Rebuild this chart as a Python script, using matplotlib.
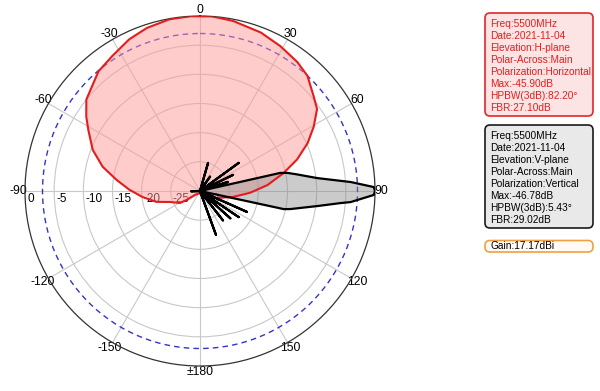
"""
Antenna radiation pattern, 5500 MHz: H-plane vs V-plane, polar dB plot.

    python plot.py        # writes out.png
"""
import numpy as np
import matplotlib
matplotlib.use("Agg")
import matplotlib.pyplot as plt
from matplotlib.patches import FancyBboxPatch

plt.rcParams["font.family"] = ["Liberation Sans", "DejaVu Sans"]

# H-plane (red) pattern, angle in deg (0 = top, clockwise) vs level in dB
h_ang = [-180, -150, -129, -124, -121, -110, -104, -96, -89, -82.5, -76, -69,
         -61.4, -56.8, -51.2, -48.3, -40.3, -33, -25, -18, -10, -3, 4, 11, 21,
         29, 37, 43, 50, 55, 60.5, 66, 72, 78, 85, 92, 100, 112, 140, 180]
h_db = [-29.6, -29.5, -28.9, -27.3, -26.0, -24.5, -22.3, -20.1, -17.9, -15.6,
        -12.8, -10.3, -8.2, -6.7, -5.0, -4.6, -3.1, -2.4, -1.3, -0.6, -0.1,
        0.0, 0.0, -0.3, -0.9, -1.6, -2.3, -3.0, -4.6, -5.5, -7.6, -9.8, -12.5,
        -15.4, -18.4, -21.4, -24.2, -26.8, -28.7, -29.6]

# V-plane (black) pattern: narrow main lobe at 90 deg plus thin side lobes
v_ang = [-180, -95, -92, -89, 0, 13.5, 16, 18.5, 32.5, 35, 37.5, 51.5, 54,
         56.5, 61.5, 64, 66.5, 69.5, 72, 74.5, 76, 77.3, 78.3, 80.2, 83.7,
         86.6, 88.7, 90, 91.3, 94.2, 94.9, 97.3, 101.3, 102.2, 103, 111.5,
         114, 116.5, 121.5, 124, 126.5, 129.5, 132, 134.5, 139.5, 142, 144.5,
         157.5, 160, 162.5, 180]
v_db = [-30, -30, -28.5, -30, -30, -30, -25, -30, -30, -27, -30, -30, -21.8,
        -30, -30, -23.7, -30, -30, -25, -30, -30, -15.9, -14.7, -13.2, -9.8,
        -4.1, -0.2, 0.0, -0.2, -4.1, -5.8, -9.7, -14.2, -15.3, -30, -30,
        -21.2, -30, -30, -22, -30, -30, -23, -30, -30, -23.6, -30, -30, -22,
        -30, -30]

theta_ticks = [0, 30, 60, 90, 120, 150, 180, 210, 240, 270, 300, 330]
theta_labels = ["0", "30", "60", "90", "120", "150", "\u00b1180",
                "-150", "-120", "-90", "-60", "-30"]
r_ticks = [0, -5, -10, -15, -20, -25, -30]
r_labels = ["0", "-5", "-10", "-15", "-20", "-25", "-30"]
half_power = -3

h_info = ["Freq:5500MHz", "Date:2021-11-04", "Elevation:H-plane",
          "Polar-Across:Main", "Polarization:Horizontal", "Max:-45.90dB",
          "HPBW(3dB):82.20\u00b0", "FBR:27.10dB"]
v_info = ["Freq:5500MHz", "Date:2021-11-04", "Elevation:V-plane",
          "Polar-Across:Main", "Polarization:Vertical", "Max:-46.78dB",
          "HPBW(3dB):5.43\u00b0", "FBR:29.02dB"]
gain_info = "Gain:17.17dBi"

fig = plt.figure(figsize=(6, 3.91), dpi=100)
ax = fig.add_axes([25 / 600, 25 / 391, 350 / 600, 350 / 391], projection="polar")
ax.set_theta_zero_location("N")
ax.set_theta_direction(-1)
ax.set_rlim(-30, 0)
ax.set_rticks(r_ticks[1:-1])
ax.set_yticklabels([])
ax.set_thetagrids(theta_ticks, theta_labels, fontsize=8.8)
ax.tick_params(axis="x", pad=-2.5, length=0)
ax.grid(color="#c8c8c8", lw=0.8)
ax.spines["polar"].set_color("#333333")
ax.spines["polar"].set_linewidth(0.9)

for val, lab in zip(r_ticks, r_labels):
    ax.annotate(lab, (np.deg2rad(-90), val), xytext=(1.5, -1.5),
                textcoords="offset points", ha="left", va="top", fontsize=8.5,
                zorder=1)

ax.axhline(half_power, color="#3333cc", lw=1, ls=(0, (4, 3)))

th = np.deg2rad(h_ang)
ax.fill(th, h_db, color="#ff9a9a", alpha=0.5, lw=0, zorder=2)
ax.plot(th, h_db, color="#e51c1c", lw=1.5, zorder=4)

tv = np.deg2rad(v_ang)
ax.fill(tv, v_db, color="#8c8c8c", alpha=0.45, lw=0, zorder=3)
ax.plot(tv, v_db, color="black", lw=1.6, zorder=5)

# info boxes on the right (inches, from bottom-left)
boxes = [
    (2.75, 1.03, h_info, "#fde4e4", "#e02828", "#e02020"),
    (1.63, 1.03, v_info, "#e9e9e9", "#1a1a1a", "black"),
]
for y0, h, lines, fc, ec, tc in boxes:
    fig.patches.append(FancyBboxPatch(
        (4.85, y0), 1.08, h, boxstyle="round,pad=0,rounding_size=0.05",
        fc=fc, ec=ec, lw=1.2, transform=fig.dpi_scale_trans, figure=fig))
    for i, line in enumerate(lines):
        fig.text(4.9, y0 + h - 0.11 - 0.12 * i, line, color=tc, fontsize=7.3,
                 va="center", ha="left", transform=fig.dpi_scale_trans)

fig.patches.append(FancyBboxPatch(
    (4.85, 1.39), 1.08, 0.115, boxstyle="round,pad=0,rounding_size=0.05",
    fc="#fffaf3", ec="#f0a040", lw=1.2, transform=fig.dpi_scale_trans,
    figure=fig))
fig.text(4.9, 1.39 + 0.0575, gain_info, fontsize=7.3, va="center", ha="left",
         transform=fig.dpi_scale_trans)

fig.savefig("out.png", dpi=100)
